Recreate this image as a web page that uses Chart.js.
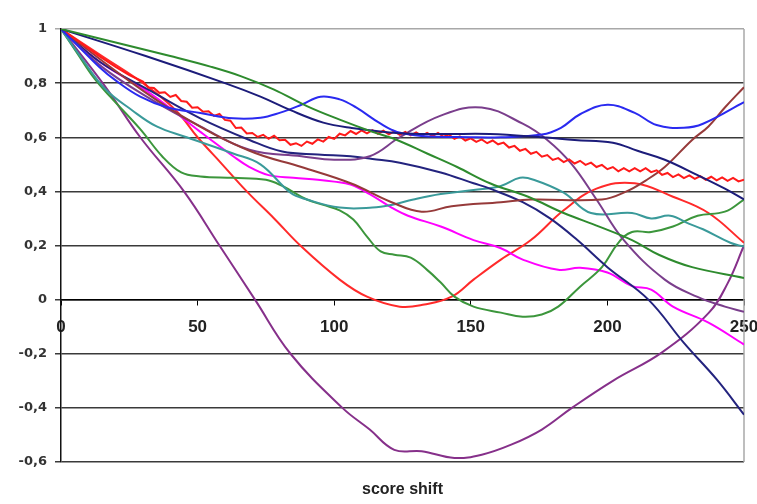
<!DOCTYPE html>
<html>
<head>
<meta charset="utf-8">
<script src="https://cdn.jsdelivr.net/npm/chart.js@4/dist/chart.umd.min.js"></script>
<style>
  html, body { margin: 0; padding: 0; background: #fff; }
  #graf { display: block; }
</style>
</head>
<body>
<canvas id="graf" width="757" height="504"></canvas>
<script>
// valores: [score shift, correlacion]
const purpuraValle = [[0,1],[16,0.79],[29,0.60],[45,0.40],[58,0.20],[71,0.0],[84,-0.2],[103,-0.4],[113,-0.48],[122,-0.555],[132,-0.56],[144,-0.585],[154,-0.573],[165,-0.535],[176,-0.48],[187,-0.40],[202,-0.30],[220,-0.195],[237,-0.05],[244,0.06],[250,0.2]];
const purpuraLoma = [[0,1],[15,0.86],[33,0.74],[51,0.64],[69,0.554],[88,0.53],[100,0.517],[113,0.53],[124,0.6],[139,0.68],[154,0.71],[169,0.65],[178,0.59],[187,0.5],[196,0.37],[206,0.22],[221,0.074],[233,0.01],[243,-0.026],[250,-0.045]];
const marron = [[0,1],[22,0.83],[44,0.68],[69,0.55],[88,0.49],[106,0.43],[121,0.36],[132,0.325],[143,0.345],[161,0.36],[172,0.37],[198,0.37],[207,0.40],[214,0.44],[221,0.49],[231,0.59],[237,0.64],[243,0.71],[250,0.785]];
const rojoU = [[0,1],[15,0.9],[30,0.8],[42,0.7],[50,0.6],[59,0.5],[68,0.4],[78,0.3],[88,0.196],[102,0.074],[112,0.011],[124,-0.026],[133,-0.018],[143,0.011],[151,0.074],[161,0.148],[172,0.22],[184,0.33],[196,0.41],[210,0.43],[224,0.38],[237,0.32],[250,0.21]];
const rojoRuido = [[0,1],[7,0.95],[14,0.9],[20,0.86],[25,0.83],
  [30,0.806],[32,0.784],[34,0.782],[36,0.764],[38,0.766],[40,0.749],[42,0.756],[44,0.734],[46,0.731],[48,0.709],
  [50,0.711],[52,0.694],[54,0.696],[56,0.679],[58,0.686],[60,0.664],[62,0.661],[64,0.634],[66,0.636],[68,0.614],
  [70,0.616],[72,0.601],[74,0.609],[76,0.594],[78,0.606],[80,0.589],[82,0.591],[84,0.572],[86,0.578],[88,0.568],
  [90,0.584],[92,0.576],[94,0.592],[96,0.584],[98,0.601],[100,0.594],[102,0.613],[104,0.607],[106,0.623],[108,0.612],
  [110,0.625],[112,0.614],[114,0.626],[116,0.613],[118,0.624],[120,0.611],[122,0.622],[124,0.609],[126,0.62],[128,0.607],
  [130,0.618],[132,0.605],[134,0.616],[136,0.604],[138,0.616],[140,0.602],[142,0.61],[144,0.594],[146,0.603],[148,0.588],
  [150,0.596],[152,0.583],[154,0.592],[156,0.578],[158,0.588],[160,0.574],[162,0.58],[164,0.562],[166,0.568],[168,0.55],
  [170,0.557],[172,0.539],[174,0.546],[176,0.528],[178,0.534],[180,0.516],[182,0.523],[184,0.508],[186,0.518],[188,0.503],
  [190,0.513],[192,0.498],[194,0.506],[196,0.49],[198,0.498],[200,0.482],[202,0.49],[204,0.474],[206,0.486],[208,0.474],
  [210,0.486],[212,0.474],[214,0.486],[216,0.471],[218,0.478],[220,0.461],[222,0.468],[224,0.453],[226,0.463],[228,0.449],
  [230,0.459],[232,0.446],[234,0.456],[236,0.443],[238,0.454],[240,0.441],[242,0.452],[244,0.439],[246,0.45],[248,0.437],[250,0.443]];
const azul = [[0,1],[7,0.93],[14,0.86],[20,0.81],[29,0.75],[39,0.71],[51,0.69],[63,0.67],[73,0.672],[80,0.69],[88,0.72],[95,0.75],[102,0.74],[108,0.71],[117,0.65],[123,0.62],[132,0.605],[150,0.60],[161,0.60],[176,0.61],[183,0.635],[190,0.685],[200,0.72],[210,0.69],[218,0.645],[228,0.635],[235,0.65],[250,0.73]];
const marino = [[0,1],[31,0.9],[60,0.8],[73,0.75],[84,0.70],[96,0.654],[106,0.635],[124,0.615],[140,0.612],[157,0.612],[176,0.60],[188,0.59],[202,0.58],[211,0.55],[221,0.517],[233,0.46],[243,0.41],[250,0.37]];
const verdeSuave = [[0,1],[20,0.95],[40,0.9],[55,0.86],[66,0.825],[78,0.776],[90,0.715],[102,0.665],[114,0.62],[123,0.59],[134,0.54],[145,0.49],[157,0.43],[171,0.38],[184,0.32],[197,0.27],[209,0.22],[219,0.165],[231,0.12],[250,0.08]];
const marinoCaida = [[0,1],[14,0.88],[33,0.77],[51,0.67],[69,0.59],[81,0.547],[94,0.536],[106,0.53],[114,0.52],[124,0.506],[139,0.47],[151,0.43],[157,0.41],[169,0.36],[179,0.3],[189,0.22],[200,0.12],[215,0.0],[228,-0.16],[240,-0.295],[250,-0.425]];
const verdeOnda = [[0,1],[6,0.91],[12,0.82],[18,0.75],[29,0.63],[37,0.53],[44,0.47],[51,0.455],[63,0.45],[75,0.443],[81,0.42],[90,0.37],[96,0.35],[102,0.33],[107,0.296],[112,0.233],[117,0.178],[122,0.166],[128,0.155],[134,0.11],[139,0.063],[144,0.011],[151,-0.026],[161,-0.048],[169,-0.063],[176,-0.055],[182,-0.026],[190,0.048],[198,0.12],[204,0.21],[209,0.25],[216,0.25],[224,0.27],[233,0.31],[243,0.325],[250,0.37]];
const turquesa = [[0,1],[7,0.9],[16,0.78],[26,0.70],[35,0.64],[46,0.60],[63,0.54],[73,0.50],[84,0.395],[90,0.37],[102,0.34],[114,0.34],[121,0.35],[129,0.37],[139,0.39],[151,0.405],[161,0.42],[168,0.45],[173,0.443],[184,0.395],[194,0.32],[209,0.32],[216,0.30],[223,0.31],[230,0.28],[235,0.26],[245,0.21],[250,0.196]];
const magenta = [[0,1],[14,0.88],[33,0.76],[51,0.62],[63,0.53],[69,0.49],[76,0.46],[85,0.45],[94,0.443],[100,0.436],[106,0.425],[113,0.39],[121,0.34],[127,0.31],[139,0.27],[151,0.22],[161,0.19],[169,0.148],[182,0.11],[190,0.118],[200,0.1],[209,0.05],[216,0.037],[224,-0.026],[237,-0.085],[250,-0.166]];

const series = [
  { datos: verdeSuave, color: "#2e8b2e" },
  { datos: marino, color: "#1c1c7a" },
  { datos: azul, color: "#2a2af0" },
  { datos: rojoRuido, color: "#ff1a1a", recto: true },
  { datos: marron, color: "#963a3a" },
  { datos: purpuraLoma, color: "#7a3e8c" },
  { datos: marinoCaida, color: "#23237e" },
  { datos: turquesa, color: "#3a9a9a" },
  { datos: verdeOnda, color: "#3c963c" },
  { datos: magenta, color: "#ff00ff" },
  { datos: rojoU, color: "#ff2a2a" },
  { datos: purpuraValle, color: "#86308a" }
];

const bordeGris = {
  id: "bordeGris",
  beforeDatasetsDraw(chart) {
    const a = chart.chartArea;
    const ctx = chart.ctx;
    ctx.save();
    ctx.strokeStyle = "#a8a8a8";
    ctx.lineWidth = 1.5;
    ctx.beginPath();
    ctx.moveTo(a.right, a.top);
    ctx.lineTo(a.right, a.bottom);
    ctx.stroke();
    ctx.restore();
  }
};

const ctx = document.getElementById("graf").getContext("2d");
const grafico = new Chart(ctx, {
  type: "line",
  data: {
    datasets: series.map((s) => ({
      data: s.datos,
      borderColor: s.color,
      borderWidth: 2,
      pointRadius: 0,
      fill: false,
      tension: s.recto ? 0 : 0.4
    }))
  },
  options: {
    responsive: false,
    animation: false,
    layout: { padding: { left: 0, top: 29, right: 13, bottom: 4.8 } },
    plugins: {
      legend: { display: false },
      tooltip: { enabled: false },
      title: {
        display: true,
        position: "bottom",
        fullSize: false,
        text: "score shift",
        color: "#222",
        font: { family: "Liberation Sans, Arial", size: 16, weight: "bold" },
        padding: { top: 18, bottom: 0 }
      }
    },
    scales: {
      x: {
        type: "linear",
        position: { y: 0 },
        min: 0,
        max: 250,
        ticks: {
          stepSize: 50,
          color: "#222",
          padding: 12,
          maxRotation: 0,
          font: { family: "Liberation Sans, Arial", size: 17, weight: "bold" }
        },
        grid: { drawOnChartArea: false, drawTicks: true, tickLength: 5, color: "#000" },
        border: { display: true, color: "#000", width: 1.5 },
        afterFit(scale) {
          scale.paddingLeft = 0;
          scale.paddingRight = 0;
        }
      },
      y: {
        min: -0.6,
        max: 1,
        ticks: {
          stepSize: 0.2,
          color: "#333",
          padding: 8,
          font: { family: "DejaVu Sans", size: 13, weight: "bold" },
          callback: (v) => String(Math.round(v * 10) / 10).replace(".", ",")
        },
        grid: {
          tickLength: 6,
          lineWidth: 1.5,
          color: (c) => (c.tick && Math.abs(c.tick.value - 1) < 1e-6 ? "#a8a8a8" : "#3a3a3a")
        },
        border: { display: true, color: "#111", width: 1.5 },
        afterFit(scale) {
          scale.width = 61;
        }
      }
    }
  },
  plugins: [bordeGris]
});
</script>
</body>
</html>
